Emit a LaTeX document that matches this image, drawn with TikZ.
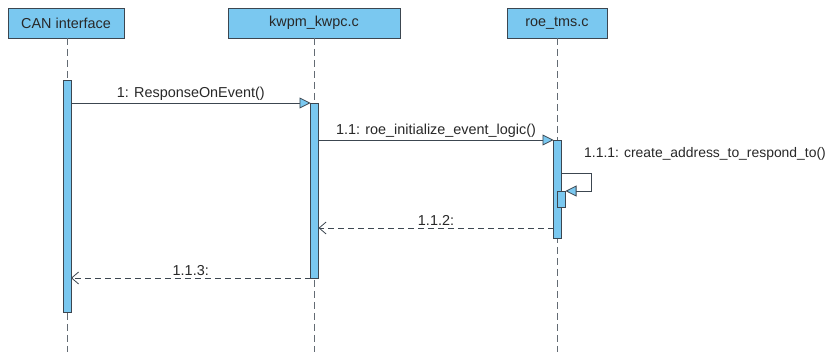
\documentclass[tikz,border=0pt]{standalone}
\usepackage{fontspec}
\setmainfont{Liberation Sans}
\usetikzlibrary{arrows.meta,calc}
\definecolor{umlblue}{RGB}{122,200,240}
\definecolor{umlline}{RGB}{60,70,80}
\definecolor{umltext}{RGB}{40,40,40}
\begin{document}
\begin{tikzpicture}[x=1pt,y=-1pt,
  font=\fontsize{14.4}{16}\selectfont,
  head/.style={draw=umlline,fill=umlblue,line width=0.8pt,minimum height=30pt,inner sep=0pt,outer sep=0pt,text=umltext},
  life/.style={draw=umlline!80,dash pattern=on 7pt off 4pt,line width=0.8pt},
  bar/.style={draw=umlline,fill=umlblue,line width=0.8pt,minimum width=8pt,inner sep=0pt,outer sep=0pt,anchor=north},
  call/.style={draw=umlline,line width=0.8pt,-{Triangle[length=11pt,width=11pt,fill=umlblue]}},
  ret/.style={draw=umlline,line width=0.8pt,dash pattern=on 6pt off 4pt,-{Straight Barb[length=7pt,width=12pt]}},
  lbl/.style={text=umltext,inner sep=2pt}
]
\useasboundingbox (0,0) rectangle (830,352);
\fill[white] (0,0) rectangle (830,352);
% heads
\node[head,minimum width=116pt] (can) at (66,23) {CAN interface};
\node[head,minimum width=172pt] (kw) at (314,23) {kwpm\_kwpc.c};
\node[head,minimum width=100pt] (roe) at (557,23) {roe\_tms.c};
% lifeline ends
\coordinate (canend) at (67,352);
\coordinate (kwend) at (314,352);
\coordinate (roeend) at (557,352);
\draw[life] (can.south -| canend) -- (canend);
\draw[life] (kw.south) -- (kwend);
\draw[life] (roe.south) -- (roeend);
% activation bars
\node[bar,minimum height=232pt] (canbar) at (67,80) {};
\node[bar,minimum height=175pt] (kwbar) at (314.5,103) {};
\node[bar,minimum height=98pt] (roebar) at (557.5,140) {};
\node[bar,minimum height=16pt] (nest) at (561.5,191) {};
% messages
\draw[call] (canbar.east |- kwbar.north) -- node[lbl,above] {1: ResponseOnEvent()} (kwbar.north west);
\draw[call] (kwbar.east |- roebar.north) -- node[lbl,above] {1.1: roe\_initialize\_event\_logic()} (roebar.north west);
\coordinate (selfc) at (591,173);
\draw[call] (roebar.east |- selfc) -- (selfc) |- (nest.north east);
\node[lbl,inner sep=0pt,anchor=base west,font=\fontsize{13.9}{16}\selectfont] (selflbl) at (584,158) {1.1.1: create\_address\_to\_respond\_to()};
\coordinate (r2) at (0,228);
\draw[ret] (roebar.west |- r2) -- node[lbl,above] {1.1.2:} (kwbar.east |- r2);
\draw[ret] (kwbar.west |- kwbar.south) -- node[lbl,above] {1.1.3:} (canbar.east |- kwbar.south);
\end{tikzpicture}
\end{document}
